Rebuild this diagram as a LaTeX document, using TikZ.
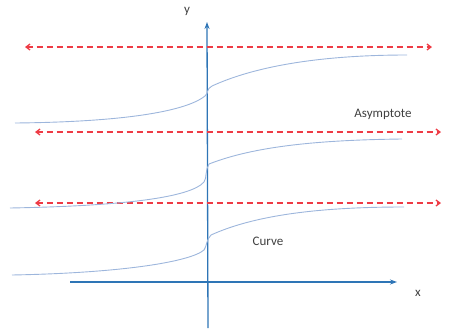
\documentclass[tikz,border=0pt]{standalone}
\usepackage{fontspec}
\setmainfont{Carlito}
\usetikzlibrary{arrows.meta}
\definecolor{axisblue}{HTML}{2E75B6}
\definecolor{curveblue}{HTML}{9DB6DC}
\definecolor{dashred}{HTML}{EE3B45}
\definecolor{txt}{HTML}{404040}
\tikzset{
  axisline/.style={draw=axisblue,line width=1.3pt,-{Stealth[length=7pt,width=5pt]}},
  asym/.style={draw=dashred,line width=1.3pt,dash pattern=on 6pt off 4pt,{Straight Barb[length=4pt,width=6pt]}-{Straight Barb[length=4pt,width=6pt]}},
  curv/.style={draw=curveblue,line width=0.9pt},
  lbl/.style={text=txt,font=\fontsize{13}{15}\selectfont,inner sep=0pt}
}
\begin{document}
\begin{tikzpicture}[x=1pt,y=-1pt]
\useasboundingbox (0,0) rectangle (456,330);
% axes
\coordinate (yb) at (208,328);
\coordinate (yt) at (207,22);
\coordinate (xl) at (70,282);
\coordinate (xr) at (397,282);
\draw[axisline] (yb) -- (yt);
\draw[axisline] (xl) -- (xr);
\node[lbl] (ylab) at (187,11) {y};
\node[lbl] (xlab) at (418,293) {x};
% asymptotes
\coordinate (a1l) at (25,47);  \coordinate (a1r) at (432,47);
\coordinate (a2l) at (35,132); \coordinate (a2r) at (441,132);
\coordinate (a3l) at (35,203); \coordinate (a3r) at (441,203);
\draw[asym] (a1l) -- (a1r);
\draw[asym] (a2l) -- (a2r);
\draw[asym] (a3l) -- (a3r);
% curves
\draw[curv] (15,123) .. controls (120,122) and (185,112) .. (205,96)
  .. controls (209,93) and (206,89) .. (212,86)
  .. controls (260,64) and (330,55) .. (407,55);
\draw[curv] (10,208) .. controls (120,206) and (190,198) .. (204,182)
  .. controls (207,178) and (205,170) .. (209,164)
  .. controls (255,146) and (320,140) .. (402,139);
\draw[curv] (12,275) .. controls (120,273) and (190,262) .. (204,250)
  .. controls (207,246) and (206,240) .. (211,235)
  .. controls (255,215) and (320,207) .. (404,207);
\node[lbl] (asy) at (383,114) {Asymptote};
\node[lbl] (cur) at (268,241) {Curve};
\end{tikzpicture}
\end{document}
